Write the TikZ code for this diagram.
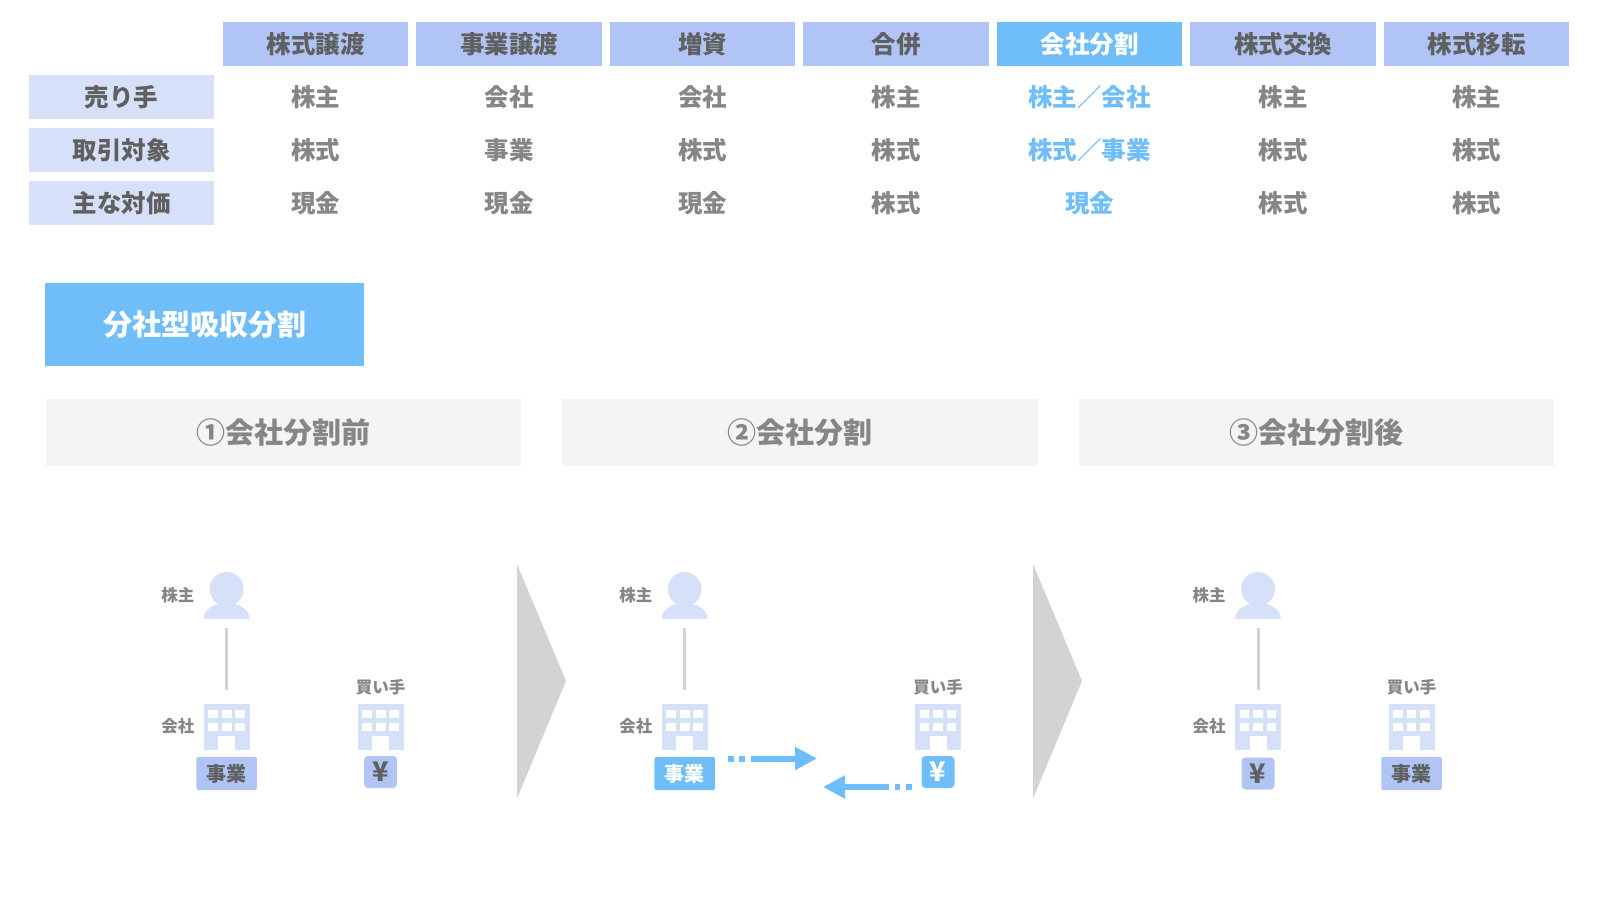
\documentclass[tikz,border=0pt]{standalone}
\usepackage{fontspec}
\setmainfont{Noto Sans CJK JP}
\usetikzlibrary{arrows.meta,positioning}
\definecolor{midblue}{RGB}{176,197,245}
\definecolor{lightblue}{RGB}{214,224,249}
\definecolor{sky}{RGB}{111,189,249}
\definecolor{darkgray}{RGB}{96,96,96}
\definecolor{midgray}{RGB}{134,134,134}
\definecolor{pale}{RGB}{244,244,246}
\definecolor{rulegray}{RGB}{212,210,210}

\begin{document}
\begin{tikzpicture}[x=1pt,y=-1pt,
 head/.style={minimum width=185.5pt,minimum height=44pt,inner sep=0pt,fill=midblue,text=darkgray,font=\fontsize{24.5}{24}\selectfont\bfseries},
 headkey/.style={head,fill=sky,text=white},
 side/.style={head,fill=lightblue},
 cell/.style={inner sep=0pt,text=midgray,font=\fontsize{24.5}{24}\selectfont\bfseries},
 cellkey/.style={cell,text=sky},
 title/.style={minimum width=319pt,minimum height=83pt,inner sep=0pt,fill=sky,text=white,font=\fontsize{29}{29}\selectfont\bfseries},
 phase/.style={minimum width=475.5pt,minimum height=67pt,inner sep=0pt,fill=pale,text=midgray,font=\fontsize{29}{29}\selectfont\bfseries},
 small/.style={inner sep=0pt,text=midgray,font=\fontsize{16.5}{16}\selectfont\bfseries},
 biz/.style={minimum width=60.5pt,minimum height=33pt,inner sep=0pt,rounded corners=2pt,fill=midblue,text=darkgray,font=\fontsize{20}{20}\selectfont\bfseries},
 bizkey/.style={biz,fill=sky,text=white},
 yen/.style={biz,minimum width=33pt,minimum height=32pt,rounded corners=4pt,font=\fontsize{27}{27}\selectfont\bfseries},
 yenkey/.style={yen,fill=sky,text=white},
 holder/.style={minimum width=46pt,minimum height=46pt,inner sep=0pt,path picture={
  \fill[lightblue] ([yshift=6pt]path picture bounding box.center) circle (17pt);
  \fill[lightblue] ([yshift=-23pt]path picture bounding box.center) ellipse (22.7pt and 15pt);}},
 firm/.style={minimum width=46pt,minimum height=46pt,inner sep=0pt,fill=lightblue,path picture={
  \foreach \wx in {-13.5,0,13.5} \foreach \wy in {13,-.3}
   \fill[white] ([xshift=\wx pt-4.8pt,yshift=\wy pt-4pt]path picture bounding box.center) rectangle ([xshift=\wx pt+4.8pt,yshift=\wy pt+4pt]path picture bounding box.center);
  \fill[white] ([xshift=-8.5pt,yshift=-9.7pt]path picture bounding box.center) rectangle ([xshift=8.5pt,yshift=-23pt]path picture bounding box.center);}},
 tie/.style={line width=3pt,draw=rulegray,shorten <=10pt,shorten >=13.5pt},
 arr/.style={-{Triangle[length=22pt,width=22pt]},line width=6pt,draw=sky,dash pattern=on 5.8pt off 5.8pt on 5.8pt off 5.8pt on 200pt},
 wedge/.style={fill=rulegray}]
\useasboundingbox (0,0) rectangle (1600,900);
% table
\node[head] (h1) at (315.7,44) {株式譲渡};
\node[head,right=7.6pt of h1] (h2) {事業譲渡};
\node[head,right=7.6pt of h2] (h3) {増資};
\node[head,right=7.6pt of h3] (h4) {合併};
\node[headkey,right=7.6pt of h4] (h5) {会社分割};
\node[head,right=7.6pt of h5] (h6) {株式交換};
\node[head,right=7.6pt of h6] (h7) {株式移転};
\node[side] (r1) at (121.7,97) {売り手};
\node[side,below=8.6pt of r1] (r2) {取引対象};
\node[side,below=8.6pt of r2] (r3) {主な対価};
\node[cell] at (h1|-r1) (a1) {株主};
\node[cell] at (h2|-r1) (a2) {会社};
\node[cell] at (h3|-r1) (a3) {会社};
\node[cell] at (h4|-r1) (a4) {株主};
\node[cellkey] at (h5|-r1) (a5) {株主／会社};
\node[cell] at (h6|-r1) (a6) {株主};
\node[cell] at (h7|-r1) (a7) {株主};
\node[cell] at (h1|-r2) (b1) {株式};
\node[cell] at (h2|-r2) (b2) {事業};
\node[cell] at (h3|-r2) (b3) {株式};
\node[cell] at (h4|-r2) (b4) {株式};
\node[cellkey] at (h5|-r2) (b5) {株式／事業};
\node[cell] at (h6|-r2) (b6) {株式};
\node[cell] at (h7|-r2) (b7) {株式};
\node[cell] at (h1|-r3) (c1) {現金};
\node[cell] at (h2|-r3) (c2) {現金};
\node[cell] at (h3|-r3) (c3) {現金};
\node[cell] at (h4|-r3) (c4) {株式};
\node[cellkey] at (h5|-r3) (c5) {現金};
\node[cell] at (h6|-r3) (c6) {株式};
\node[cell] at (h7|-r3) (c7) {株式};
% headings
\node[title] (t) at (204.5,324.5) {分社型吸収分割};
\node[phase] (f1) at (283.7,432.5) {①会社分割前};
\node[phase,right=40.5pt of f1] (f2) {②会社分割};
\node[phase,right=40.5pt of f2] (f3) {③会社分割後};
% first state
\node[holder] (p1) at (226.7,595) {};
\node[firm] (k1) at (226.7,726.5) {};
\node[firm] (m1) at (380.7,726.5) {};
\node[small,left=9pt of p1] (pl1) {株主};
\node[small,left=9pt of k1] (kl1) {会社};
\node[small,above=8pt of m1] (ml1) {買い手};
\node[biz] (j1) at (226.7,773.5) {事業};
\node[yen] (y1) at (380.7,772) {¥};
\draw[tie] (p1)--(k1);
\fill[wedge] (517,564)--(566,681)--(517,798.5)--cycle;
% second state
\node[holder] (p2) at (684.7,595) {};
\node[firm] (k2) at (684.7,726.5) {};
\node[firm] (m2) at (938,726.5) {};
\node[small,left=9pt of p2] (pl2) {株主};
\node[small,left=9pt of k2] (kl2) {会社};
\node[small,above=8pt of m2] (ml2) {買い手};
\node[bizkey] (j2) at (684.7,773.5) {事業};
\node[yenkey] (y2) at (938,772) {¥};
\draw[tie] (p2)--(k2);
\coordinate (s1) at (727.7,758.5);
\coordinate (e1) at (817,758.5);
\coordinate (s2) at (912,787);
\coordinate (e2) at (823,787);
\draw[arr] (s1)--(e1);
\draw[arr] (s2)--(e2);
\fill[wedge] (1033,564)--(1082,681)--(1033,798.5)--cycle;
% third state
\node[holder] (p3) at (1258,595) {};
\node[firm] (k3) at (1258,726.5) {};
\node[firm] (m3) at (1411.5,726.5) {};
\node[small,left=9pt of p3] (pl3) {株主};
\node[small,left=9pt of k3] (kl3) {会社};
\node[small,above=8pt of m3] (ml3) {買い手};
\node[yen] (y3) at (1258,773.5) {¥};
\node[biz] (j3) at (1411.5,773.5) {事業};
\draw[tie] (p3)--(k3);
\end{tikzpicture}
\end{document}
